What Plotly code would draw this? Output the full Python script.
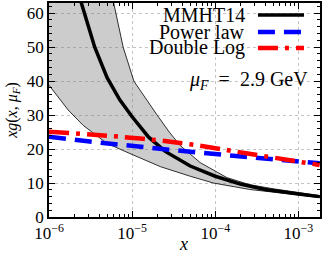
import plotly.graph_objects as go

# ---- data ----
x_central = [1.58e-6, 2.45e-6, 3.55e-6, 5.0e-6, 7.1e-6, 1.0e-5, 1.58e-5, 2.5e-5, 5.0e-5, 1.0e-4, 2.0e-4, 4.0e-4, 1.0e-3, 1.8e-3]
y_central = [85, 63, 50, 41, 34.5, 29.5, 23.5, 19.3, 15.0, 12.0, 9.7, 8.1, 6.8, 6.0]

x_upper = [1.0e-6, 2.0e-6, 4.0e-6, 6.0e-6, 7.8e-6, 1.05e-5, 2.0e-5, 2.8e-5, 3.8e-5, 6.6e-5, 1.38e-4, 2.6e-4, 5.0e-4, 1.0e-3, 1.8e-3]
y_upper = [220, 130, 85, 63, 50, 40, 30, 25, 21, 16, 11.6, 9.5, 8.3, 7.2, 6.3]

x_lower = [1.0e-6, 1.7e-6, 2.57e-6, 4.95e-6, 1.0e-5, 2.2e-5, 5.0e-5, 9.5e-5, 2.6e-4, 1.0e-3, 1.8e-3]
y_lower = [38.8, 31.5, 27, 21.7, 18.4, 14.8, 12, 10, 8.1, 6.5, 5.7]

x_power = [1.0e-6, 3.1e-6, 6.0e-5, 1.5e-3, 1.8e-3]
y_power = [23.6, 22.2, 19.0, 16.0, 15.8]

x_dlog = [1.0e-6, 1.26e-5, 5.0e-5, 2.45e-4, 1.8e-3]
y_dlog = [25.1, 23.1, 21.4, 18.7, 15.3]

legend_names = ["MMHT14", "Power law", "Double Log"]
y_ticks = [0, 10, 20, 30, 40, 50, 60]
x_ticks = [1e-6, 1e-5, 1e-4, 1e-3]
x_ticktext = ["10<sup>−6</sup>", "10<sup>−5</sup>", "10<sup>−4</sup>", "10<sup>−3</sup>"]

FONT = "Liberation Serif"
fig = go.Figure()

# uncertainty band
fig.add_trace(go.Scatter(
    x=x_upper + x_lower[::-1], y=y_upper + y_lower[::-1],
    fill="toself", fillcolor="rgba(128,128,128,0.4)",
    line=dict(color="black", width=0.8), mode="lines", hoverinfo="skip"))
fig.add_trace(go.Scatter(x=x_central, y=y_central, mode="lines",
                         line=dict(color="black", width=3.5)))
fig.add_trace(go.Scatter(x=x_power, y=y_power, mode="lines",
                         line=dict(color="#0000ff", width=4.5, dash="17px,9px")))
fig.add_trace(go.Scatter(x=x_dlog, y=y_dlog, mode="lines", line_shape="spline",
                         line=dict(color="#ff0000", width=4.5, dash="20px,7px,4px,7px")))

# custom legend (text left, line sample right)
styles = [dict(color="black", width=3.5),
          dict(color="#0000ff", width=4.5, dash="17px,9px"),
          dict(color="#ff0000", width=4.5, dash="20px,7px,4px,7px")]
ys = [0.944, 0.864, 0.790]
for name, st, yy in zip(legend_names, styles, ys):
    fig.add_annotation(x=0.731, y=yy, xref="paper", yref="paper", text=name,
                       showarrow=False, xanchor="right", yanchor="middle",
                       font=dict(family=FONT, size=20, color="black"))
    fig.add_shape(type="line", xref="paper", yref="paper", x0=0.771, x1=0.941,
                  y0=yy, y1=yy, line=st)

fig.add_annotation(x=0.963, y=0.64, xref="paper", yref="paper",
                   text="<i>μ<sub>F</sub></i>\u00a0\u00a0=\u00a0\u00a02.9\u00a0GeV", showarrow=False,
                   xanchor="right", yanchor="middle",
                   font=dict(family=FONT, size=20, color="black"))

# axis titles as annotations for exact placement
fig.add_annotation(x=0.495, y=0, xref="paper", yref="paper", text="<i>x</i>",
                   showarrow=False, xanchor="center", yanchor="middle", yshift=-27,
                   font=dict(family=FONT, size=18, color="black"))
fig.add_annotation(x=-0.137, y=0.5, xref="paper", yref="paper",
                   text="<i>xg</i>(<i>x</i>, <i>μ<sub>F</sub></i>)", textangle=-90,
                   showarrow=False, xanchor="center", yanchor="middle",
                   font=dict(family=FONT, size=16, color="black"))

axis_common = dict(showline=True, linecolor="black", linewidth=1.5, mirror="allticks",
                   ticks="inside", ticklen=6, tickcolor="black", automargin=False,
                   showgrid=True, gridcolor="#c4c4c4", griddash="dot", gridwidth=1,
                   zeroline=False, tickfont=dict(family=FONT, size=17, color="black"))

fig.update_xaxes(type="log", range=[-6, -2.74], tickvals=x_ticks, ticktext=x_ticktext,
                 minor=dict(ticks="inside", ticklen=3, tickcolor="black", showgrid=False,
                            tickvals=[m * 10**e for e in (-6, -5, -4, -3) for m in range(2, 10)]),
                 **axis_common)
fig.update_yaxes(range=[0, 63], tickvals=y_ticks,
                 minor=dict(ticks="inside", ticklen=3, tickcolor="black", dtick=2, showgrid=False),
                 **axis_common)

fig.update_layout(width=322, height=253, margin=dict(l=49, r=2, t=3, b=36),
                  paper_bgcolor="white", plot_bgcolor="white", showlegend=False,
                  font=dict(family=FONT, color="black"))
fig.write_html("out.html", config={"displayModeBar": False},
               post_script="document.body.style.margin='0';document.body.style.padding='0';"
                           "document.body.style.overflow='hidden';")
